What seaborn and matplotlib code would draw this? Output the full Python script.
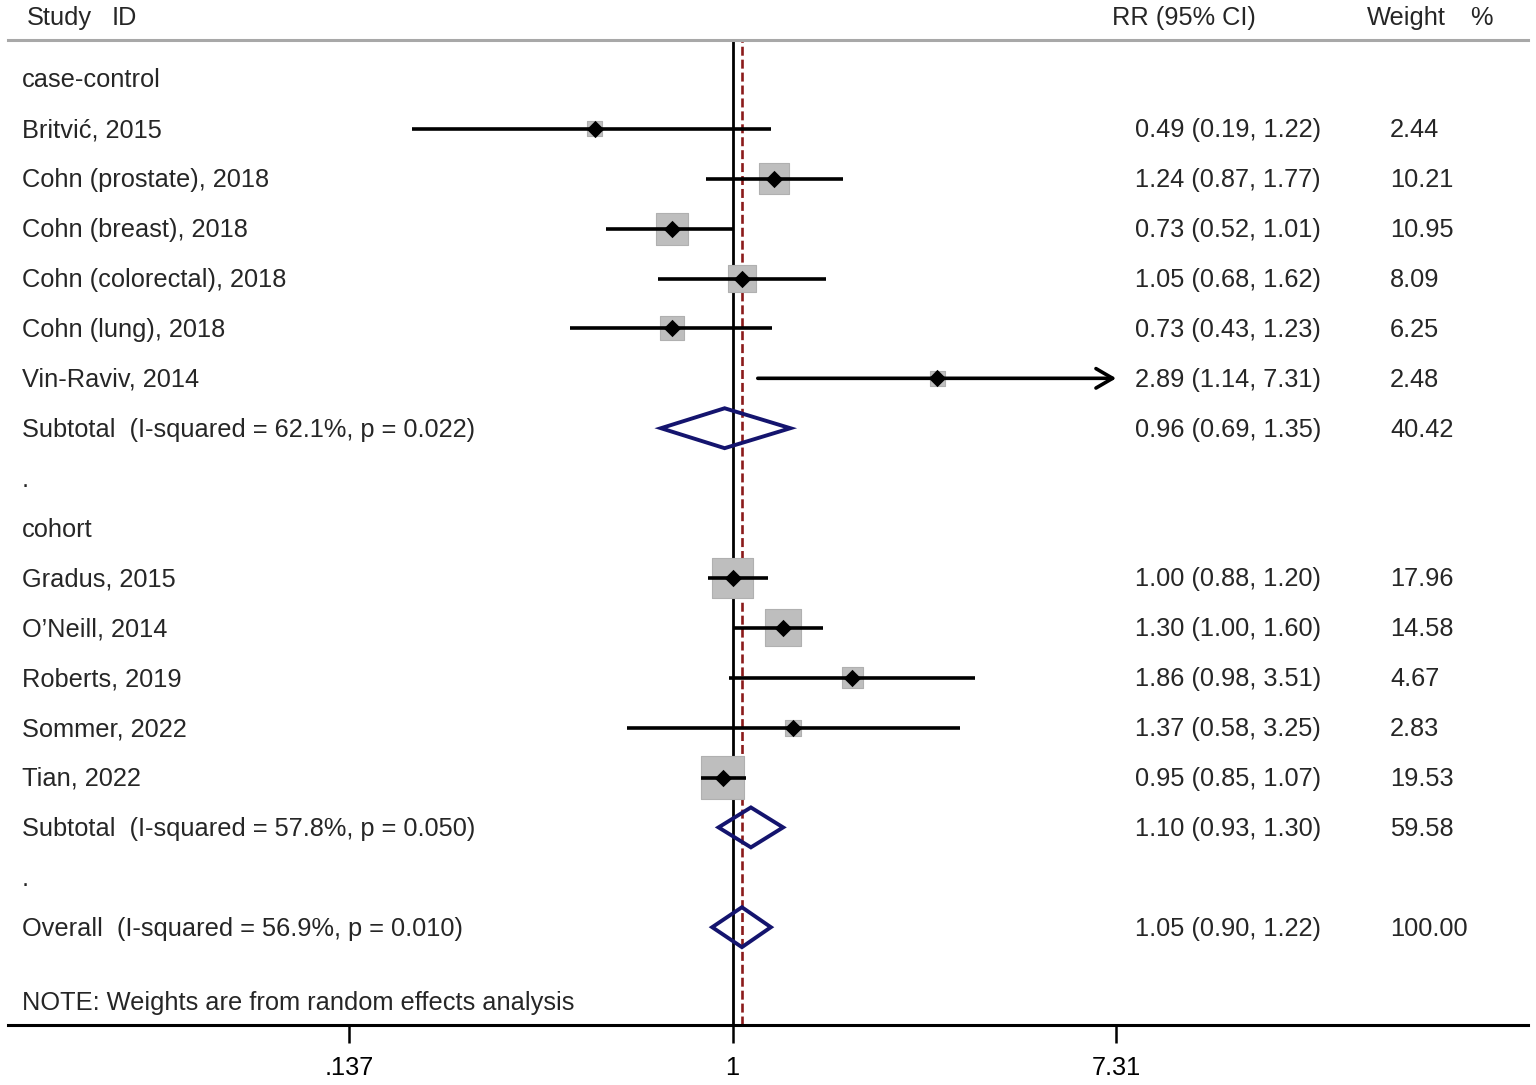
import numpy as np
import pandas as pd
import matplotlib
matplotlib.use('Agg')
import matplotlib.pyplot as plt
import seaborn as sns
from matplotlib.patches import Polygon
from matplotlib.ticker import NullLocator
from matplotlib.transforms import blended_transform_factory

# --- data ---
groups = ['case-control', 'cohort']

cc_studies = ['Britvić, 2015', 'Cohn (prostate), 2018', 'Cohn (breast), 2018',
              'Cohn (colorectal), 2018', 'Cohn (lung), 2018', 'Vin-Raviv, 2014']
cc_rr = [0.49, 1.24, 0.73, 1.05, 0.73, 2.89]
cc_lo = [0.19, 0.87, 0.52, 0.68, 0.43, 1.14]
cc_hi = [1.22, 1.77, 1.01, 1.62, 1.23, 7.31]
cc_w = [2.44, 10.21, 10.95, 8.09, 6.25, 2.48]

co_studies = ['Gradus, 2015', 'O’Neill, 2014', 'Roberts, 2019', 'Sommer, 2022', 'Tian, 2022']
co_rr = [1.00, 1.30, 1.86, 1.37, 0.95]
co_lo = [0.88, 1.00, 0.98, 0.58, 0.85]
co_hi = [1.20, 1.60, 3.51, 3.25, 1.07]
co_w = [17.96, 14.58, 4.67, 2.83, 19.53]

sub_labels = ['Subtotal  (I-squared = 62.1%, p = 0.022)',
              'Subtotal  (I-squared = 57.8%, p = 0.050)',
              'Overall  (I-squared = 56.9%, p = 0.010)']
sub_rr = [0.96, 1.10, 1.05]
sub_lo = [0.69, 0.93, 0.90]
sub_hi = [1.35, 1.30, 1.22]
sub_w = [40.42, 59.58, 100.00]

x_ticks = [0.137, 1, 7.31]
x_ticklabels = ['.137', '1', '7.31']
note = 'NOTE: Weights are from random effects analysis'

# --- build the row table ---
rows = []
def add(kind, label, rr=np.nan, lo=np.nan, hi=np.nan, w=np.nan):
    rows.append(dict(row=len(rows), kind=kind, label=label, rr=rr, lo=lo, hi=hi, w=w))

add('group', groups[0])
for s, r, l, h, w in zip(cc_studies, cc_rr, cc_lo, cc_hi, cc_w):
    add('study', s, r, l, h, w)
add('sub', sub_labels[0], sub_rr[0], sub_lo[0], sub_hi[0], sub_w[0])
add('blank', '.')
add('group', groups[1])
for s, r, l, h, w in zip(co_studies, co_rr, co_lo, co_hi, co_w):
    add('study', s, r, l, h, w)
add('sub', sub_labels[1], sub_rr[1], sub_lo[1], sub_hi[1], sub_w[1])
add('blank', '.')
add('sub', sub_labels[2], sub_rr[2], sub_lo[2], sub_hi[2], sub_w[2])
df = pd.DataFrame(rows)
studies = df[df.kind == 'study'].copy()
studies['box_s'] = 48.0 * studies['w']

sns.set_theme(style='white')
plt.rcParams['font.family'] = ['Liberation Sans', 'DejaVu Sans']
FS = 18.3

W, H = 1536, 1085
fig = plt.figure(figsize=(W / 100, H / 100), dpi=100)
ax = fig.add_axes([8 / W, 1 - 1025 / H, 1520 / W, (1025 - 40) / H])
ax.set_xscale('log')
ax.set_xlim(np.exp(-3.756), np.exp(4.124))
ax.set_ylim(18.96, -0.78)

for side in ['left', 'right']:
    ax.spines[side].set_visible(False)
ax.spines['top'].set_color('#A8A8A8')
ax.spines['top'].set_linewidth(2.2)
ax.spines['bottom'].set_color('black')
ax.spines['bottom'].set_linewidth(2.2)

# reference lines: null effect and overall estimate
ax.axvline(1, color='black', lw=2.0, zorder=1)
ax.axvline(sub_rr[2], color='#8B1A1A', lw=1.9, ls=(0, (3.4, 1.5)), zorder=1)

# weight boxes
sns.scatterplot(data=studies, x='rr', y='row', marker='s', s=studies['box_s'].values,
                color='#BEBEBE', edgecolor='#B0B0B0', linewidth=0.8, legend=False,
                zorder=2, ax=ax)

# confidence intervals
xmax_tick = x_ticks[-1]
for _, r in studies.iterrows():
    if r.hi >= xmax_tick:
        ax.annotate('', xy=(r.hi, r.row), xytext=(r.lo, r.row),
                    arrowprops=dict(arrowstyle='->,head_length=0.6,head_width=0.35',
                                    color='black', lw=2.6, shrinkA=0, shrinkB=0,
                                    mutation_scale=20), zorder=3)
    else:
        ax.plot([r.lo, r.hi], [r.row, r.row], color='black', lw=2.6,
                solid_capstyle='butt', zorder=3)

# point estimates
sns.scatterplot(data=studies, x='rr', y='row', marker='D', s=78, color='black',
                edgecolor='black', linewidth=0, legend=False, zorder=4, ax=ax)

# pooled diamonds
for _, r in df[df.kind == 'sub'].iterrows():
    verts = [(r.lo, r.row), (r.rr, r.row - 0.4), (r.hi, r.row), (r.rr, r.row + 0.4)]
    ax.add_patch(Polygon(verts, closed=True, fill=False, edgecolor='#14146E',
                         lw=2.8, joinstyle='miter', zorder=3))

# axis: only the three reference ticks, no labels
ax.set_xlabel('')
ax.set_ylabel('')
ax.set_yticks([])
ax.set_xticks(x_ticks)
ax.set_xticklabels(x_ticklabels)
ax.xaxis.set_minor_locator(NullLocator())
ax.tick_params(axis='x', length=13, width=1.8, pad=9, labelsize=FS, color='black',
               labelcolor='black', bottom=True)

# text columns
trans = blended_transform_factory(ax.transAxes, ax.transData)
x_lab = (22 - 8) / 1520
x_rr = (1135 - 8) / 1520
x_wt = (1390 - 8) / 1520
dy = 0.03
for _, r in df.iterrows():
    ax.text(x_lab, r.row + dy, r.label, transform=trans, ha='left', va='center', fontsize=FS)
    if r.kind in ('study', 'sub'):
        ax.text(x_rr, r.row + dy, f'{r.rr:.2f} ({r.lo:.2f}, {r.hi:.2f})', transform=trans,
                ha='left', va='center', fontsize=FS)
        ax.text(x_wt, r.row + dy, f'{r.w:.2f}', transform=trans, ha='left', va='center',
                fontsize=FS)
ax.text(x_lab, 18.48 + dy, note, transform=trans, ha='left', va='center', fontsize=FS)

# column headers
hy = 1 - 18 / H
for px, txt in [(27, 'Study'), (112, 'ID'), (1112, 'RR (95% CI)'), (1367, 'Weight'), (1470, '%')]:
    fig.text(px / W, hy, txt, ha='left', va='center', fontsize=FS)

fig.savefig('out.png', dpi=100)
